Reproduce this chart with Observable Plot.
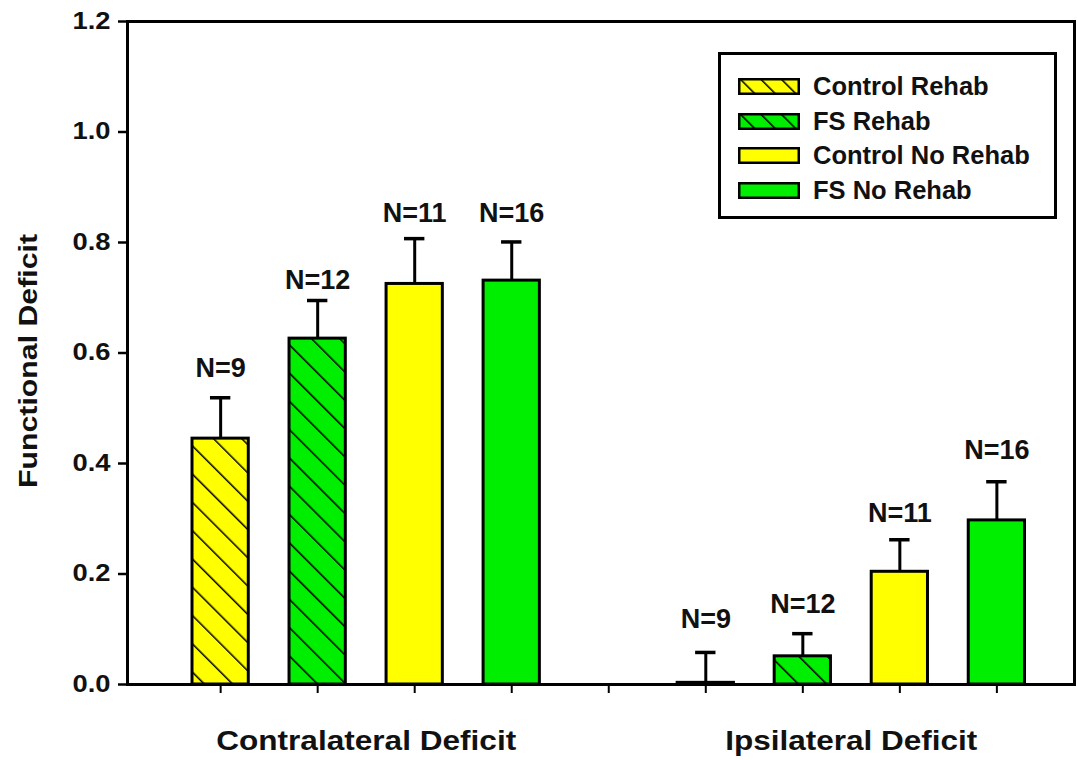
<!DOCTYPE html>
<html>
<head>
<meta charset="utf-8">
<script src="https://cdn.jsdelivr.net/npm/d3@7"></script>
<script src="https://cdn.jsdelivr.net/npm/@observablehq/plot@0.6"></script>
<style>
  body { margin: 0; background: #fff; }
  #wrap { position: relative; width: 1077px; height: 760px; font-family: "Liberation Sans", Arial, sans-serif; }
  #legend { position: absolute; left: 718px; top: 52px; width: 339px; height: 167px; box-sizing: border-box;
            border: 3px solid #000; background: #fff; }
  .row { position: absolute; left: 17px; display: flex; align-items: center; height: 17px; }
  .row span { margin-left: 13px; font-size: 25.5px; font-weight: bold; color: #111; white-space: nowrap; }
</style>
</head>
<body>
<svg width="0" height="0" style="position:absolute">
  <defs id="defs"></defs>
</svg>
<div id="wrap"></div>
<script>
// ---- data ----
const groups = ["Contralateral Deficit", "Ipsilateral Deficit"];
const treatments = ["Control Rehab", "FS Rehab", "Control No Rehab", "FS No Rehab"];
const contraMean = [0.445, 0.626, 0.725, 0.731];
const contraSem  = [0.074, 0.069, 0.082, 0.070];
const ipsiMean   = [0.003, 0.051, 0.204, 0.297];
const ipsiSem    = [0.055, 0.041, 0.058, 0.070];
const nCounts    = [9, 12, 11, 16];
const contraLabelAt = [0.572, 0.731, 0.852, 0.852];
const ipsiLabelAt   = [0.118, 0.145, 0.309, 0.423];
const yTicks = [0, 0.2, 0.4, 0.6, 0.8, 1.0, 1.2];
const yTitle = "Functional Deficit";

// ---- styles ----
const YELLOW = "#ffff00";
const GREEN = "#00ee00";

// hatch patterns
const defs = document.getElementById("defs");
function hatch(id, color, period, sw) {
  defs.insertAdjacentHTML("beforeend",
    `<pattern id="${id}" patternUnits="userSpaceOnUse" width="${period}" height="${period}" patternTransform="rotate(-45)">
       <rect width="${period}" height="${period}" fill="${color}"/>
       <line x1="0" y1="0" x2="0" y2="${period}" stroke="#000" stroke-width="${sw}"/>
     </pattern>`);
}
hatch("hatchYellow", YELLOW, 20, 3);
hatch("hatchGreen", GREEN, 20, 3);
hatch("legHatchYellow", YELLOW, 14.5, 3);
hatch("legHatchGreen", GREEN, 14.5, 3);

const barFill = ["url(#hatchYellow)", "url(#hatchGreen)", YELLOW, GREEN];
const legFill = ["url(#legHatchYellow)", "url(#legHatchGreen)", YELLOW, GREEN];

// table built from the arrays
const rows = [];
groups.forEach((g, gi) => {
  treatments.forEach((t, ti) => {
    rows.push({
      group: g,
      treatment: t,
      slot: gi * 5 + ti + 1,
      mean: (gi === 0 ? contraMean : ipsiMean)[ti],
      sem: (gi === 0 ? contraSem : ipsiSem)[ti],
      n: nCounts[ti],
      labelAt: (gi === 0 ? contraLabelAt : ipsiLabelAt)[ti]
    });
  });
});
const groupRows = groups.map((g, gi) => ({group: g, center: gi * 5 + 2.5}));

const half = 0.29;   // half bar width, in slot units
const cap = 0.105;   // half cap width

const chart = Plot.plot({
  width: 1077,
  height: 760,
  marginTop: 21,
  marginBottom: 76,
  marginLeft: 127,
  marginRight: 3,
  style: {fontFamily: "'Liberation Sans', Arial, sans-serif", color: "#000", background: "#fff"},
  x: {type: "linear", domain: [0.04, 9.8]},
  y: {domain: [0, 1.2]},
  color: {type: "ordinal", domain: treatments, range: barFill},
  marks: [
    Plot.rectY(rows, {
      x1: d => d.slot - half, x2: d => d.slot + half,
      y1: 0, y2: "mean",
      fill: "treatment", stroke: "#000", strokeWidth: 3
    }),
    Plot.ruleX(rows, {x: "slot", y1: "mean", y2: d => d.mean + d.sem, stroke: "#000", strokeWidth: 3}),
    Plot.ruleY(rows, {y: d => d.mean + d.sem, x1: d => d.slot - cap, x2: d => d.slot + cap, stroke: "#000", strokeWidth: 3.5}),
    Plot.text(rows, {
      x: "slot", y: "labelAt", text: d => `N=${d.n}`,
      fontSize: 27, fontWeight: "bold", fill: "#111"
    }),
    Plot.axisX({ticks: d3.range(1, 10), tickSize: 9, tickFormat: () => "", strokeWidth: 2, label: null}),
    Plot.axisY({
      ticks: yTicks, tickFormat: d3.format(".1f"), tickSize: 9, tickPadding: 8,
      fontSize: 24, fontWeight: "bold", strokeWidth: 2.5, label: null, fill: "#111"
    }),
    Plot.frame({stroke: "#000", strokeWidth: 3}),
    Plot.text([yTitle], {
      frameAnchor: "left", textAnchor: "middle", lineAnchor: "middle", dx: -99, dy: 8, rotate: -90, text: d => d,
      fontSize: 26, fontWeight: "bold", fill: "#111"
    }),
    Plot.text(groupRows, {
      x: "center", frameAnchor: "bottom", lineAnchor: "middle", dy: 57, text: "group",
      fontSize: 27, fontWeight: "bold", fill: "#111"
    })
  ]
});

const wrap = document.getElementById("wrap");
wrap.appendChild(chart);

// the reference's lettering is wider than Arial at its height: stretch a few texts
const stretch = {
  "Contralateral Deficit": 300,
  "Ipsilateral Deficit": 252,
  "Functional Deficit": 254
};
chart.querySelectorAll("text").forEach(t => {
  const s = t.textContent;
  if (stretch[s]) {
    t.setAttribute("textLength", stretch[s]);
    t.setAttribute("lengthAdjust", "spacingAndGlyphs");
  }
});
chart.querySelectorAll('g[aria-label="y-axis tick label"] text').forEach(t => {
  t.setAttribute("font-size", 23);
  t.style.fontSize = "23px";
  t.setAttribute("textLength", 38);
  t.setAttribute("lengthAdjust", "spacingAndGlyphs");
});

// legend (inside plot area, top right)
const legend = document.createElement("div");
legend.id = "legend";
treatments.forEach((t, i) => {
  const row = document.createElement("div");
  row.className = "row";
  row.style.top = (23 + i * 34.7) + "px";
  row.innerHTML = `<svg width="62" height="17"><rect x="1.25" y="1.25" width="59.5" height="14.5" fill="${legFill[i]}" stroke="#000" stroke-width="2.5"/></svg><span>${t}</span>`;
  legend.appendChild(row);
});
wrap.appendChild(legend);
</script>
</body>
</html>
